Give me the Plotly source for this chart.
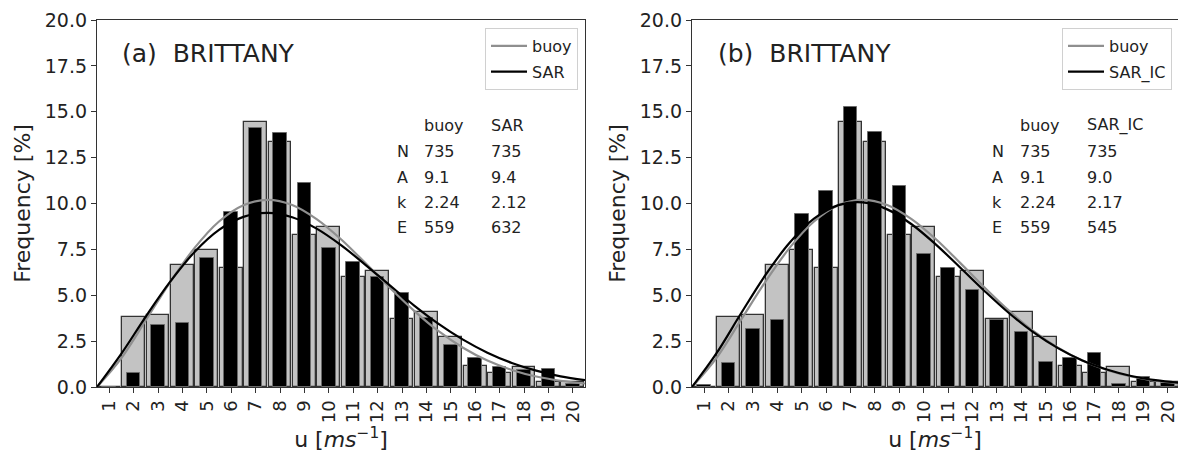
import plotly.graph_objects as go

# ---------------- data ----------------
bins = list(range(1, 21))
tick_labels = [str(b) for b in bins]

buoy_freq = [0.0, 3.83, 3.92, 6.67, 7.48, 6.47, 14.46, 13.37, 8.28, 8.70,
             5.98, 6.34, 3.70, 4.10, 2.71, 1.16, 0.78, 1.11, 0.30, 0.25]
sar_freq = [0.0, 0.78, 3.38, 3.47, 7.01, 9.52, 14.10, 13.84, 11.10, 7.56,
            6.80, 5.98, 5.14, 3.74, 2.29, 1.56, 1.11, 0.90, 1.00, 0.15]
sar_ic_freq = [0.12, 1.29, 3.14, 3.65, 9.43, 10.66, 15.28, 13.88, 10.97, 7.23,
               6.50, 5.29, 3.65, 3.01, 1.38, 1.56, 1.83, 0.15, 0.56, 0.20]

# fitted Weibull curves, wind speed u = 0..20 m/s
curve_u = list(range(0, 21))
buoy_curve = [0.0, 1.58, 3.64, 5.72, 7.58, 9.02, 9.91, 10.20, 9.92, 9.15, 8.05,
              6.75, 5.41, 4.15, 3.04, 2.14, 1.44, 0.93, 0.57, 0.34, 0.19]
sar_curve = [0.0, 1.82, 3.84, 5.74, 7.36, 8.56, 9.27, 9.49, 9.25, 8.63, 7.73,
             6.66, 5.54, 4.44, 3.44, 2.58, 1.87, 1.31, 0.89, 0.58, 0.37]
sar_ic_curve = [0.0, 1.83, 3.99, 6.08, 7.86, 9.17, 9.91, 10.06, 9.68, 8.87, 7.76,
                6.50, 5.22, 4.02, 2.98, 2.12, 1.45, 0.95, 0.60, 0.37, 0.22]

stats_rows = ["N", "A", "k", "E"]
buoy_stats = ["735", "9.1", "2.24", "559"]
sar_stats = ["735", "9.4", "2.12", "632"]
sar_ic_stats = ["735", "9.0", "2.17", "545"]

# ---------------- style ----------------
FONT = "DejaVu Sans"
W, H = 1178, 457
MT, MB = 20, 70
PH = H - MT - MB
GRAY_FILL = "#c3c3c3"
EDGE = "#333333"
CURVE_GRAY = "#8f8f8f"
curve_x = [u + 0.5 for u in curve_u]


def py(pix):
    """pixel row -> paper y (paper spans the plot area between margins)"""
    return 1 - (pix - MT) / PH


fig = go.Figure()


def add_panel(xa, ya, sat_freq, sat_curve, sat_name, legend):
    fig.add_trace(go.Bar(x=bins, y=buoy_freq, width=0.94, xaxis=xa, yaxis=ya,
                         marker=dict(color=GRAY_FILL, line=dict(color=EDGE, width=1.3)),
                         showlegend=False, hoverinfo="skip"))
    fig.add_trace(go.Bar(x=bins, y=sat_freq, width=0.56, xaxis=xa, yaxis=ya,
                         marker=dict(color="black", line=dict(color="#6a6a6a", width=1)),
                         showlegend=False, hoverinfo="skip"))
    fig.add_trace(go.Scatter(x=curve_x, y=buoy_curve, mode="lines", name="buoy",
                             line=dict(color=CURVE_GRAY, width=2.2, shape="spline"),
                             xaxis=xa, yaxis=ya, legend=legend, legendgroup=legend + "b"))
    fig.add_trace(go.Scatter(x=curve_x, y=sat_curve, mode="lines", name=sat_name,
                             line=dict(color="black", width=2.2, shape="spline"),
                             xaxis=xa, yaxis=ya, legend=legend, legendgroup=legend + "s"))


add_panel("x", "y", sar_freq, sar_curve, "SAR", "legend")
add_panel("x2", "y2", sar_ic_freq, sar_ic_curve, "SAR_IC", "legend2")

left_dom = [97 / W, 585 / W]
right_dom = [692 / W, 1.0]

xcommon = dict(tickmode="array", tickvals=bins, ticktext=tick_labels, tickangle=-90,
               ticks="outside", ticklen=5, tickcolor=EDGE, showline=True, linecolor=EDGE,
               linewidth=1.3, showgrid=False, zeroline=False,
               tickfont=dict(family=FONT, size=18, color="#222"),
               title=dict(text="u [<i>ms</i><sup>−1</sup>]", standoff=9,
                          font=dict(family=FONT, size=22, color="#222")))
ycommon = dict(range=[0, 20], tickmode="array", tickvals=[i * 2.5 for i in range(9)],
               tickformat=".1f", ticks="outside", ticklen=5, tickcolor=EDGE,
               showline=True, linecolor=EDGE, linewidth=1.3, showgrid=False, zeroline=False,
               tickfont=dict(family=FONT, size=19, color="#222"),
               title=dict(text="Frequency [%]", standoff=8,
                          font=dict(family=FONT, size=22, color="#222")))

legend_common = dict(yanchor="top", xanchor="right", bgcolor="white",
                     bordercolor="#d0d0d0", borderwidth=1,
                     font=dict(family=FONT, size=16, color="#222"), tracegroupgap=2,
                     itemwidth=36)

fig.update_layout(
    width=W, height=H, margin=dict(l=0, r=0, t=MT, b=MB),
    paper_bgcolor="white", plot_bgcolor="white", barmode="overlay", bargap=0,
    font=dict(family=FONT, color="#222"),
    xaxis=dict(domain=left_dom, range=[0.5, 20.5], anchor="y", mirror=True, **xcommon),
    yaxis=dict(domain=[0, 1], anchor="x", mirror=True, **ycommon),
    xaxis2=dict(domain=right_dom, range=[0.5, 20.42], anchor="y2", mirror=True, **xcommon),
    yaxis2=dict(domain=[0, 1], anchor="x2", mirror=False, **ycommon),
    legend=dict(x=578 / W, y=py(28), **legend_common),
    legend2=dict(x=1172 / W, y=py(28), **legend_common),
)

annotations = []
# panel titles
annotations.append(dict(text="(a)  BRITTANY", x=120 / W, y=py(53),
                        font=dict(family=FONT, size=25, color="#222")))
annotations.append(dict(text="(b)  BRITTANY", x=716 / W, y=py(53),
                        font=dict(family=FONT, size=25, color="#222")))


def stats_block(x_lab, x_b, x_s, sat_name, sat_vals):
    ys = [125, 151, 177, 202, 227]
    annotations.append(dict(text="buoy", x=x_b / W, y=py(ys[0])))
    annotations.append(dict(text=sat_name, x=x_s / W, y=py(ys[0])))
    for i, r in enumerate(stats_rows):
        yy = py(ys[i + 1])
        annotations.append(dict(text=r, x=x_lab / W, y=yy))
        annotations.append(dict(text=buoy_stats[i], x=x_b / W, y=yy))
        annotations.append(dict(text=sat_vals[i], x=x_s / W, y=yy))


stats_block(395, 422, 489, "SAR", sar_stats)
stats_block(990, 1018, 1085, "SAR_IC", sar_ic_stats)

for a in annotations:
    a.setdefault("xref", "paper")
    a.setdefault("yref", "paper")
    a.setdefault("xanchor", "left")
    a.setdefault("yanchor", "middle")
    a.setdefault("showarrow", False)
    a.setdefault("font", dict(family=FONT, size=16, color="#222"))

fig.update_layout(annotations=annotations)

fig.write_html("out.html")
